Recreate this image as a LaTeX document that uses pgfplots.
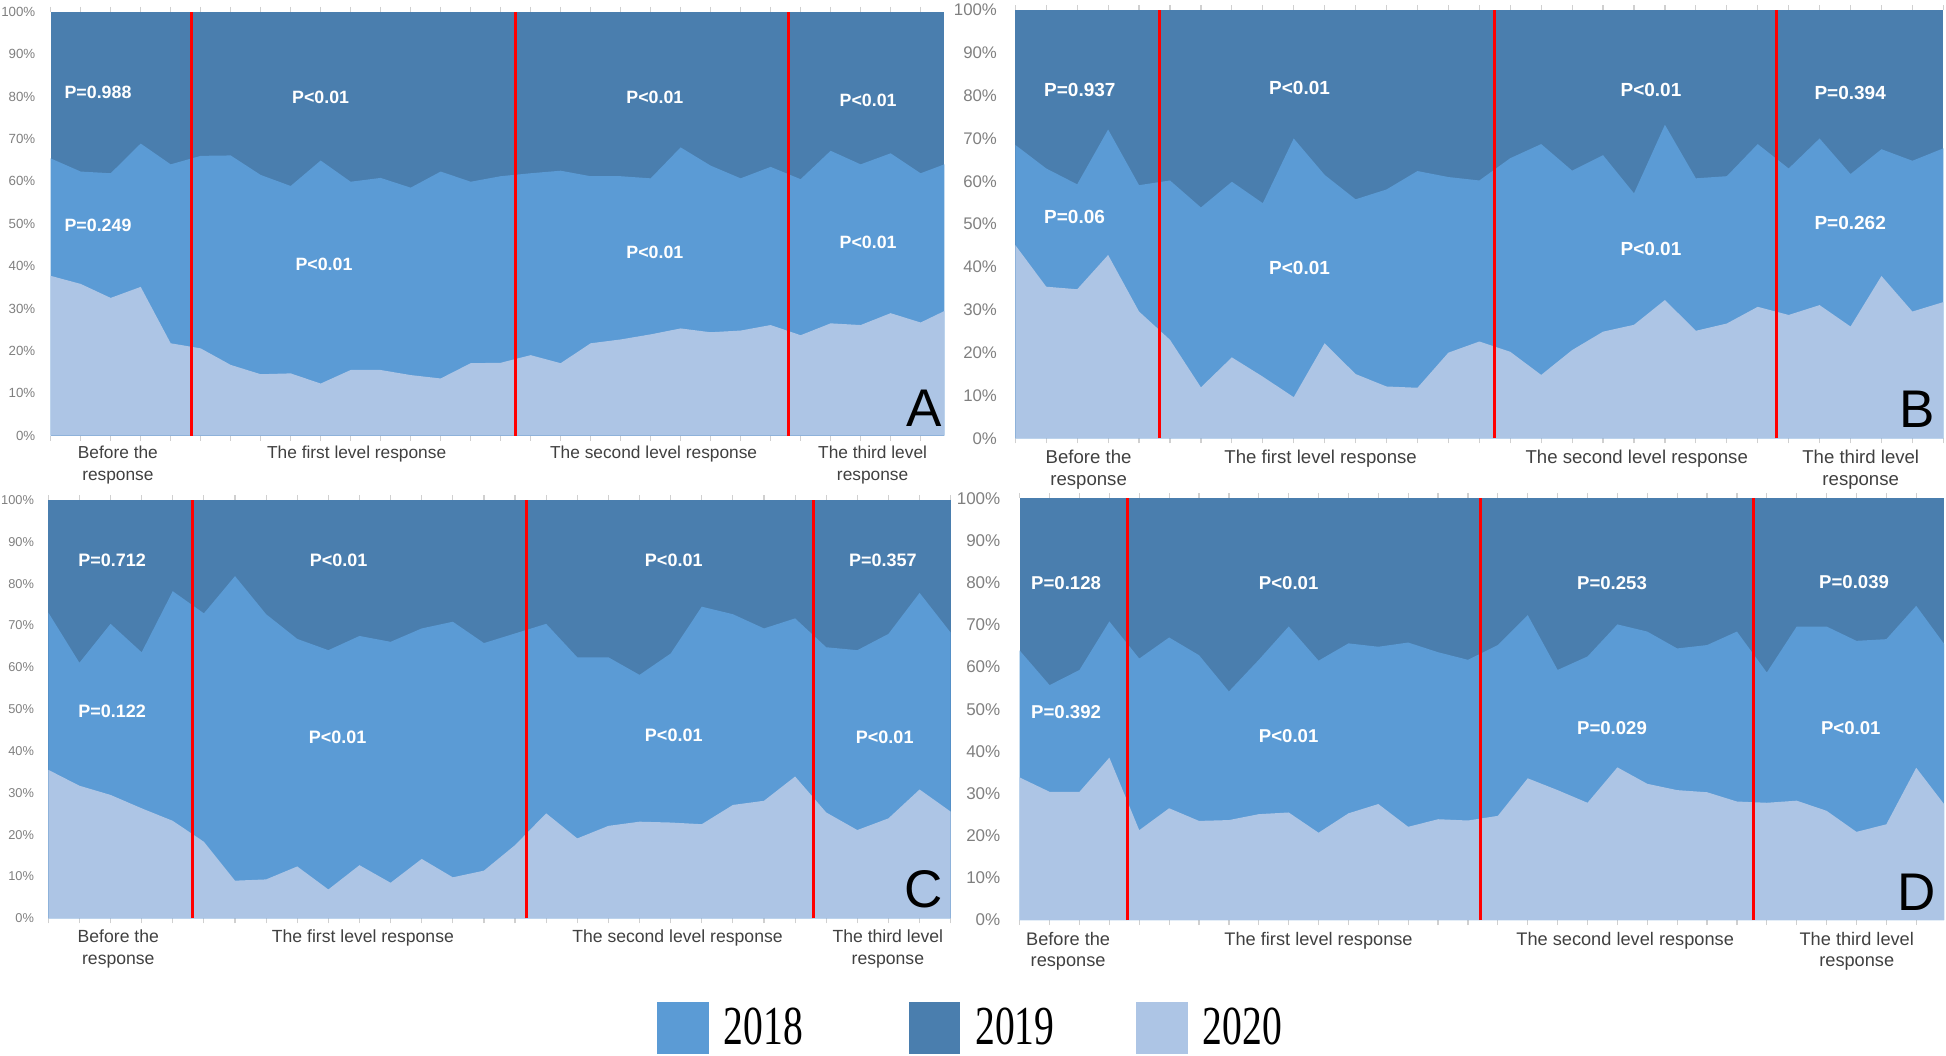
\documentclass[border=0pt]{standalone}
\usepackage{fontspec}
\setmainfont{Liberation Sans}
\newfontfamily\legendserif{Liberation Serif}
\usepackage{graphicx}
\usepackage{pgfplots}
\usepackage{pgfplotstable}
\pgfplotsset{compat=1.18}

\definecolor{c18}{HTML}{5B9BD5}
\definecolor{c19}{HTML}{4A7EAE}
\definecolor{c20}{HTML}{ADC5E5}
\definecolor{tickgray}{HTML}{D0D0D0}
\definecolor{labgray}{HTML}{7F7F7F}
\definecolor{catgray}{HTML}{404040}
\definecolor{sepred}{HTML}{FF0000}

% lo = share of 2020, up = 2020 + 2018 (the rest up to 100% is 2019)
\pgfplotstableread{
x lo up
0 37.7 65.4
1 35.8 62.3
2 32.5 61.9
3 35.1 68.9
4 21.8 64.0
5 20.6 66.0
6 16.7 66.1
7 14.5 61.5
8 14.7 58.9
9 12.3 64.9
10 15.5 59.9
11 15.5 60.8
12 14.3 58.5
13 13.5 62.3
14 17.1 59.9
15 17.2 61.2
16 19.0 61.9
17 17.1 62.5
18 21.8 61.2
19 22.7 61.2
20 23.9 60.7
21 25.3 68.0
22 24.4 63.7
23 24.8 60.7
24 26.1 63.4
25 23.7 60.5
26 26.5 67.2
27 26.1 64.0
28 28.9 66.6
29 26.7 61.9
29.79 29.4 64.0
}\tabA

\pgfplotstableread{
x lo up
0 45.1 68.5
1 35.4 63.0
2 34.8 59.3
3 42.8 72.1
4 29.6 59.1
5 23.0 60.2
6 11.9 53.9
7 18.9 59.9
8 14.4 54.9
9 9.6 70.0
10 22.2 61.5
11 15.0 55.8
12 12.1 58.1
13 11.8 62.4
14 20.0 61.0
15 22.6 60.2
16 20.2 65.4
17 14.8 68.7
18 20.6 62.5
19 24.9 66.1
20 26.5 57.2
21 32.3 73.2
22 25.1 60.7
23 26.8 61.2
24 30.7 68.7
25 28.8 63.0
26 31.1 70.0
27 26.1 61.7
28 37.9 67.5
29 29.6 64.8
30 31.8 67.7
}\tabB

\pgfplotstableread{
x lo up
0 35.5 73.1
1 31.7 61.1
2 29.5 70.4
3 26.3 63.6
4 23.3 78.2
5 18.3 72.9
6 9.0 81.8
7 9.3 72.7
8 12.4 66.8
9 6.9 64.1
10 12.7 67.5
11 8.5 66.1
12 14.2 69.3
13 9.8 70.9
14 11.4 65.8
15 17.5 68.1
16 25.1 70.4
17 19.1 62.4
18 22.1 62.4
19 23.1 58.2
20 22.9 63.3
21 22.5 74.5
22 27.1 72.7
23 28.1 69.3
24 33.9 71.7
25 25.3 64.8
26 21.1 64.1
27 23.9 68.0
28 30.8 77.8
29 25.5 68.3
}\tabC

\pgfplotstableread{
x lo up
0 33.8 63.9
1 30.4 55.7
2 30.4 59.3
3 38.5 70.8
4 21.3 62.0
5 26.5 67.0
6 23.5 62.8
7 23.7 54.2
8 25.1 61.7
9 25.5 69.6
10 20.7 61.5
11 25.3 65.6
12 27.5 64.8
13 22.1 65.8
14 23.9 63.5
15 23.6 61.7
16 24.7 65.2
17 33.6 72.3
18 30.8 59.3
19 27.8 62.5
20 36.2 70.1
21 32.3 68.4
22 30.8 64.4
23 30.3 65.2
24 28.1 68.4
25 27.8 58.7
26 28.3 69.6
27 25.9 69.6
28 20.9 66.2
29 22.7 66.6
30 36.1 74.5
30.93 27.5 65.5
}\tabD

\pgfplotsset{
  panel/.style={
    scale only axis,
    xmin=0, ymin=0, ymax=100,
    clip mode=individual,
    axis background/.style={fill=c19},
    axis line style={draw=none},
    xtick={0,...,31}, xticklabels={},
    major tick length=2.5pt, tick align=outside,
    x tick style={draw=tickgray, line width=0.6pt},
    ytick={0,10,...,100}, y tick style={draw=none},
    yticklabel={\pgfmathprintnumber{\tick}\%},
    /pgf/number format/assume math mode=true,
    yticklabel style={text=labgray, inner sep=0pt},
  },
}
\tikzset{
  lo/.style={fill=c20, draw=none},
  up/.style={fill=c18, draw=none},
  sep/.style={sepred, line width=1.5pt},
  pl/.style={text=white, inner sep=0pt, font=\bfseries\fontsize{#1}{#1}\selectfont},
  cat/.style={text=catgray, align=center, anchor=north, inner sep=0pt,
    font=\fontsize{#1}{10.8}\selectfont},
  letter/.style={anchor=south east, inner sep=0pt, font=\fontsize{26.5}{28}\selectfont},
}
\newcommand{\legtext}[1]{\raisebox{-0.5pt}{\scalebox{0.72}[1]{#1}}}

\begin{document}
\begin{tikzpicture}
\useasboundingbox (0pt,0pt) rectangle (973pt,-527.5pt);

% ---------------- A ----------------
\begin{axis}[panel, width=446.8pt, height=212pt, xmax=29.79,
  at={(25.35pt,-217.85pt)}, anchor=south west,
  yticklabel style={font=\fontsize{6.65}{8}\selectfont, xshift=-5pt}]
\addplot[up] table[x=x,y=up]{\tabA} \closedcycle;
\addplot[lo] table[x=x,y=lo]{\tabA} \closedcycle;
\draw[sep] (axis cs:4.68,0) -- (axis cs:4.68,100);
\draw[sep] (axis cs:15.48,0) -- (axis cs:15.48,100);
\draw[sep] (axis cs:24.59,0) -- (axis cs:24.59,100);
\node[pl=8.9, anchor=west] at (axis cs:0.45,81.0) {P=0.988};
\node[pl=8.9, anchor=west] at (axis cs:0.45,49.5) {P=0.249};
\node[pl=8.9] at (axis cs:9.0,79.7) {P<0.01};
\node[pl=8.9] at (axis cs:9.11,40.4) {P<0.01};
\node[pl=8.9] at (axis cs:20.14,79.7) {P<0.01};
\node[pl=8.9] at (axis cs:20.14,43.2) {P<0.01};
\node[pl=8.9] at (axis cs:27.25,79.2) {P<0.01};
\node[pl=8.9] at (axis cs:27.25,45.5) {P<0.01};
\node[cat=8.66, yshift=-5pt] at (axis cs:2.24,0) {Before the\\response};
\node[cat=8.66, yshift=-5pt] at (axis cs:10.2,0) {The first level response};
\node[cat=8.66, yshift=-5pt] at (axis cs:20.1,0) {The second level response};
\node[cat=8.66, yshift=-5pt] at (axis cs:27.4,0) {The third level\\response};
\node[letter, xshift=-0.8pt, yshift=4.5pt] at (rel axis cs:1,0) {A};
\end{axis}

% ---------------- B ----------------
\begin{axis}[panel, width=464pt, height=214.15pt, xmax=30,
  at={(507.65pt,-219.15pt)}, anchor=south west,
  yticklabel style={font=\fontsize{8.4}{10}\selectfont, xshift=-6.5pt}]
\addplot[up] table[x=x,y=up]{\tabB} \closedcycle;
\addplot[lo] table[x=x,y=lo]{\tabB} \closedcycle;
\draw[sep] (axis cs:4.67,0) -- (axis cs:4.67,100);
\draw[sep] (axis cs:15.48,0) -- (axis cs:15.48,100);
\draw[sep] (axis cs:24.6,0) -- (axis cs:24.6,100);
\node[pl=9.5, anchor=west] at (axis cs:0.92,81.3) {P=0.937};
\node[pl=9.5, anchor=west] at (axis cs:0.92,51.7) {P=0.06};
\node[pl=9.5] at (axis cs:9.19,81.7) {P<0.01};
\node[pl=9.5] at (axis cs:9.19,39.7) {P<0.01};
\node[pl=9.5] at (axis cs:20.55,81.3) {P<0.01};
\node[pl=9.5] at (axis cs:20.55,44.1) {P<0.01};
\node[pl=9.5] at (axis cs:26.99,80.7) {P=0.394};
\node[pl=9.5] at (axis cs:26.99,50.3) {P=0.262};
\node[cat=9.3, yshift=-5.85pt] at (axis cs:2.37,0) {Before the\\response};
\node[cat=9.3, yshift=-5.85pt] at (axis cs:9.87,0) {The first level response};
\node[cat=9.3, yshift=-5.85pt] at (axis cs:20.09,0) {The second level response};
\node[cat=9.3, yshift=-5.85pt] at (axis cs:27.33,0) {The third level\\response};
\node[letter, xshift=-4pt, yshift=5pt] at (rel axis cs:1,0) {B};
\end{axis}

% ---------------- C ----------------
\begin{axis}[panel, width=451.2pt, height=209.15pt, xmax=29,
  at={(24.15pt,-459.15pt)}, anchor=south west,
  yticklabel style={font=\fontsize{6.4}{8}\selectfont, xshift=-4.5pt}]
\addplot[up] table[x=x,y=up]{\tabC} \closedcycle;
\addplot[lo] table[x=x,y=lo]{\tabC} \closedcycle;
\draw[sep] (axis cs:4.65,0) -- (axis cs:4.65,100);
\draw[sep] (axis cs:15.38,0) -- (axis cs:15.38,100);
\draw[sep] (axis cs:24.6,0) -- (axis cs:24.6,100);
\node[pl=9, anchor=west] at (axis cs:0.95,85.5) {P=0.712};
\node[pl=9, anchor=west] at (axis cs:0.95,49.6) {P=0.122};
\node[pl=9] at (axis cs:9.33,85.5) {P<0.01};
\node[pl=9] at (axis cs:9.30,43.3) {P<0.01};
\node[pl=9] at (axis cs:20.1,85.5) {P<0.01};
\node[pl=9] at (axis cs:20.1,43.8) {P<0.01};
\node[pl=9] at (axis cs:26.82,85.5) {P=0.357};
\node[pl=9] at (axis cs:26.88,43.3) {P<0.01};
\node[cat=8.8, yshift=-5.5pt] at (axis cs:2.25,0) {Before the\\response};
\node[cat=8.8, yshift=-5.5pt] at (axis cs:10.11,0) {The first level response};
\node[cat=8.8, yshift=-5.5pt] at (axis cs:20.22,0) {The second level response};
\node[cat=8.8, yshift=-5.5pt] at (axis cs:26.98,0) {The third level\\response};
\node[letter, xshift=-3.7pt, yshift=5pt] at (rel axis cs:1,0) {C};
\end{axis}

% ---------------- D ----------------
\begin{axis}[panel, width=462.15pt, height=210.85pt, xmax=30.93,
  at={(509.85pt,-460pt)}, anchor=south west,
  yticklabel style={font=\fontsize{8.5}{10}\selectfont, xshift=-7pt}]
\addplot[up] table[x=x,y=up]{\tabD} \closedcycle;
\addplot[lo] table[x=x,y=lo]{\tabD} \closedcycle;
\draw[sep] (axis cs:3.62,0) -- (axis cs:3.62,100);
\draw[sep] (axis cs:15.43,0) -- (axis cs:15.43,100);
\draw[sep] (axis cs:24.55,0) -- (axis cs:24.55,100);
\node[pl=9.3, anchor=west] at (axis cs:0.37,80.0) {P=0.128};
\node[pl=9.3, anchor=west] at (axis cs:0.37,49.2) {P=0.392};
\node[pl=9.3] at (axis cs:9.0,80.0) {P<0.01};
\node[pl=9.3] at (axis cs:9.0,43.5) {P<0.01};
\node[pl=9.3] at (axis cs:19.82,80.0) {P=0.253};
\node[pl=9.3] at (axis cs:19.82,45.6) {P=0.029};
\node[pl=9.3] at (axis cs:27.92,80.2) {P=0.039};
\node[pl=9.3] at (axis cs:27.81,45.6) {P<0.01};
\node[cat=9.1, yshift=-5.85pt] at (axis cs:1.62,0) {Before the\\response};
\node[cat=9.1, yshift=-5.85pt] at (axis cs:10.0,0) {The first level response};
\node[cat=9.1, yshift=-5.85pt] at (axis cs:20.26,0) {The second level response};
\node[cat=9.1, yshift=-5.85pt] at (axis cs:28.01,0) {The third level\\response};
\node[letter, xshift=-4pt, yshift=4.6pt] at (rel axis cs:1,0) {D};
\end{axis}

% ---------------- legend ----------------
\begin{axis}[hide axis, scale only axis, width=10pt, height=10pt,
  xmin=0, xmax=1, ymin=0, ymax=1,
  at={(328.35pt,-513.8pt)}, anchor=west,
  legend columns=3,
  legend image code/.code={\fill[#1] (0pt,-13pt) rectangle (25.75pt,13pt);},
  legend style={at={(0,0.5)}, anchor=west, draw=none, fill=none, inner sep=0pt,
    font=\legendserif\fontsize{27.5}{28}\selectfont,
    nodes={inner sep=0pt},
    /tikz/every odd column/.append style={column sep=7.5pt},
    /tikz/column 2/.append style={column sep=53pt},
    /tikz/column 4/.append style={column sep=40.85pt}}]
\addlegendimage{fill=c18, draw=none}
\addlegendentry{\legtext{2018}}
\addlegendimage{fill=c19, draw=none}
\addlegendentry{\legtext{2019}}
\addlegendimage{fill=c20, draw=none}
\addlegendentry{\legtext{2020}}
\end{axis}
\end{tikzpicture}
\end{document}
